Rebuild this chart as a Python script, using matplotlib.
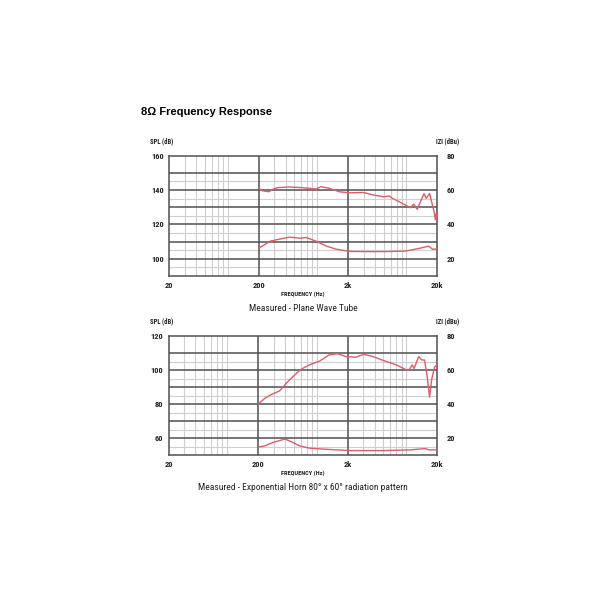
import matplotlib
matplotlib.use("Agg")
import matplotlib.pyplot as plt
import numpy as np

# ---------------- data ----------------
x_ticks = [20, 200, 2000, 20000]
x_tick_labels = ["20", "200", "2k", "20k"]

# Top chart: Plane Wave Tube
pw_spl_freq = [200, 221, 261, 286, 326, 440, 622, 878, 1000, 1240, 1600, 2100, 2960,
               3870, 5060, 5780, 6300, 8800, 10000, 10900, 11900, 14200, 15000, 16400,
               18600, 19000, 19400, 19700, 20000]
pw_spl_db = [141.0, 139.6, 139.0, 140.4, 141.4, 141.8, 141.4, 140.6, 142.0, 141.0, 139.0,
             138.4, 138.6, 137.1, 136.1, 136.6, 135.2, 131.3, 129.7, 131.8, 128.8, 138.0,
             135.2, 138.0, 126.4, 122.8, 126.0, 122.5, 124.0]
pw_imp_freq = [200, 270, 347, 440, 580, 680, 878, 1120, 1450, 2100, 3200, 5060, 8800,
               12400, 16000, 17800, 20000]
pw_imp_db = [106.1, 110.3, 111.5, 112.6, 112.0, 112.4, 110.3, 107.6, 105.7, 104.3, 104.2,
             104.2, 104.5, 106.0, 107.4, 105.5, 105.9]

# Bottom chart: Exponential Horn
eh_spl_freq = [200, 240, 286, 347, 412, 490, 580, 660, 780, 975, 1240, 1540, 1910, 2460,
               3030, 3870, 5060, 7000, 9000, 9700, 10500, 11000, 12400, 13400, 14400,
               15500, 16400, 17300, 18600, 19500, 20000]
eh_spl_db = [80.0, 83.5, 85.8, 87.7, 92.2, 96.1, 99.7, 101.6, 103.4, 105.3, 108.9, 109.6,
             107.9, 107.5, 109.2, 107.9, 105.5, 103.0, 100.1, 100.1, 103.0, 100.9, 107.9,
             105.9, 105.9, 95.2, 84.0, 94.3, 101.6, 102.8, 100.5]
eh_imp_freq = [200, 240, 290, 400, 470, 580, 750, 1120, 2100, 5060, 9900, 14700, 16000, 20000]
eh_imp_db = [54.7, 55.4, 57.3, 59.4, 57.8, 55.4, 54.0, 53.4, 52.6, 52.6, 53.0, 53.8, 53.0, 53.0]

top_left_ticks = [100, 120, 140, 160]
top_right_labels = ["20", "40", "60", "80"]
bot_left_ticks = [60, 80, 100, 120]
bot_right_labels = ["20", "40", "60", "80"]

# ---------------- style ----------------
NARROW = ["Roboto Condensed", "Archivo Narrow", "DejaVu Sans"]
RED = "#dd5d68"
DARK = "#505050"
LIGHT = "#cfcfcf"
TXT = "#222222"

fig = plt.figure(figsize=(6, 6), dpi=100)
fig.patch.set_facecolor("white")

fig.text(141 / 600, 1 - 112 / 600, "8Ω Frequency Response", fontsize=8,
         fontweight="bold", family=["Liberation Sans", "DejaVu Sans"],
         ha="left", va="center")


def px(v):
    return v / 600


def draw_chart(rect, ylim, left_ticks, right_labels, spl_f, spl_db, imp_f, imp_db,
               caption, header_y):
    ax = fig.add_axes(rect)
    ax.set_xscale("log")
    ax.set_xlim(20, 20000)
    ax.set_ylim(*ylim)
    for dec in [20, 200, 2000]:
        base = dec / 2
        for m in range(3, 10):
            ax.axvline(base * m, color=LIGHT, lw=0.8, zorder=1)
    for f in [200, 2000]:
        ax.axvline(f, color=DARK, lw=1.1, zorder=2)
    lo, hi = ylim
    for v in np.arange(lo + 5, hi - 5, 10):
        ax.axhline(v, color=LIGHT, lw=0.8, zorder=1)
    for v in np.arange(lo + 10, hi, 10):
        ax.axhline(v, color=DARK, lw=1.1, zorder=2)
    ax.plot(spl_f, spl_db, color=RED, lw=1.0, zorder=3)
    ax.plot(imp_f, imp_db, color=RED, lw=1.0, zorder=3)
    for s in ax.spines.values():
        s.set_color(DARK)
        s.set_linewidth(1.1)
    ax.set_xticks(x_ticks)
    ax.set_xticklabels(x_tick_labels)
    ax.xaxis.set_minor_locator(matplotlib.ticker.NullLocator())
    ax.set_yticks(left_ticks)
    ax.set_yticklabels([str(t) for t in left_ticks])
    ax.tick_params(axis="y", length=0, labelsize=6, pad=4, colors=TXT)
    ax.tick_params(axis="x", length=0, labelsize=6, pad=4, colors=TXT)
    for lab in ax.get_xticklabels() + ax.get_yticklabels():
        lab.set_family(NARROW)
        lab.set_fontweight("bold")
    ax2 = ax.twinx()
    ax2.set_ylim(*ylim)
    ax2.set_yticks(left_ticks)
    ax2.set_yticklabels(right_labels)
    ax2.tick_params(length=0, labelsize=6, pad=7, colors=TXT)
    for lab in ax2.get_yticklabels():
        lab.set_family(NARROW)
        lab.set_fontweight("bold")
    for s in ax2.spines.values():
        s.set_visible(False)
    l, b, w, h = rect
    fig.text(px(150.5), header_y, "SPL (dB)", fontsize=4.8, family=NARROW,
             fontweight="bold", ha="left", va="center", color=TXT)
    fig.text(px(436), header_y, "IZI (dBu)", fontsize=4.8, family=NARROW,
             fontweight="bold", ha="left", va="center", color=TXT)
    fig.text(l + w / 2, b - px(18.5), "FREQUENCY (Hz)", fontsize=4.6, family=NARROW,
             fontweight="bold", ha="center", va="center", color=TXT)
    fig.text(l + w / 2, b - px(32.8), caption, fontsize=6.8, family=NARROW,
             ha="center", va="center", color=TXT)
    return ax


draw_chart([px(169.3), 1 - px(276), px(268), px(120.3)], (90, 160),
           top_left_ticks, top_right_labels, pw_spl_freq, pw_spl_db,
           pw_imp_freq, pw_imp_db, "Measured - Plane Wave Tube", 1 - px(141.5))
draw_chart([px(168.5), 1 - px(455), px(268.8), px(119)], (50, 120),
           bot_left_ticks, bot_right_labels, eh_spl_freq, eh_spl_db,
           eh_imp_freq, eh_imp_db,
           "Measured - Exponential Horn 80° x 60° radiation pattern", 1 - px(321.5))

fig.savefig("out.png", dpi=100, facecolor="white")
